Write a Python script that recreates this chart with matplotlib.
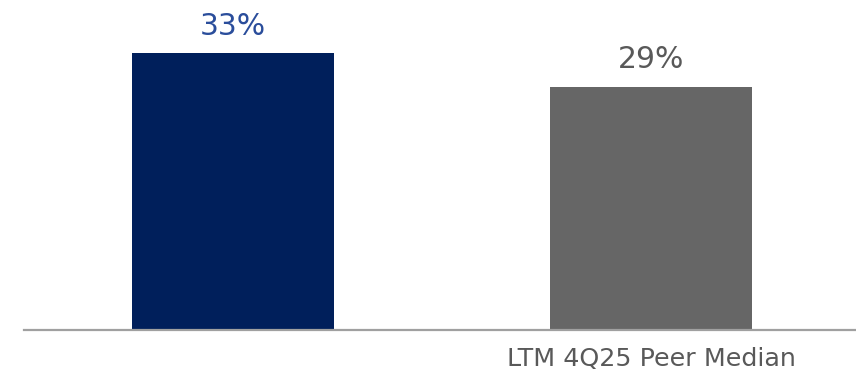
import matplotlib.pyplot as plt

categories = ["", "LTM 4Q25 Peer Median"]
values = [33, 29]
value_labels = ["33%", "29%"]

bar_colors = ["#001f5b", "#666666"]
label_colors = ["#2a4d9b", "#595959"]

plt.rcParams['font.family'] = ['DejaVu Sans']

fig = plt.figure(figsize=(8.56, 3.74), dpi=100)
ax = fig.add_axes([24 / 856, 44 / 374, 836 / 856, 319 / 374])

x = range(len(categories))
bars = ax.bar(x, values, width=0.483, color=bar_colors, zorder=2)

for bar, text, col in zip(bars, value_labels, label_colors):
    ax.annotate(text, (bar.get_x() + bar.get_width() / 2, bar.get_height()),
                xytext=(0, 13), textcoords="offset points",
                ha="center", va="baseline", fontsize=21.5, color=col)

ax.set_xlim(-0.5, 1.5)
ax.set_ylim(0, 38)
ax.set_xticks(list(x))
ax.set_xticklabels(categories, fontsize=18.3, color="#595959")
ax.tick_params(axis="x", length=0, pad=12.5)
ax.set_yticks([])

for side in ["top", "right", "left"]:
    ax.spines[side].set_visible(False)
ax.spines["bottom"].set_color("#a0a0a0")
ax.spines["bottom"].set_linewidth(1.6)
ax.spines["bottom"].set_zorder(3)

fig.savefig("out.png", dpi=100)
